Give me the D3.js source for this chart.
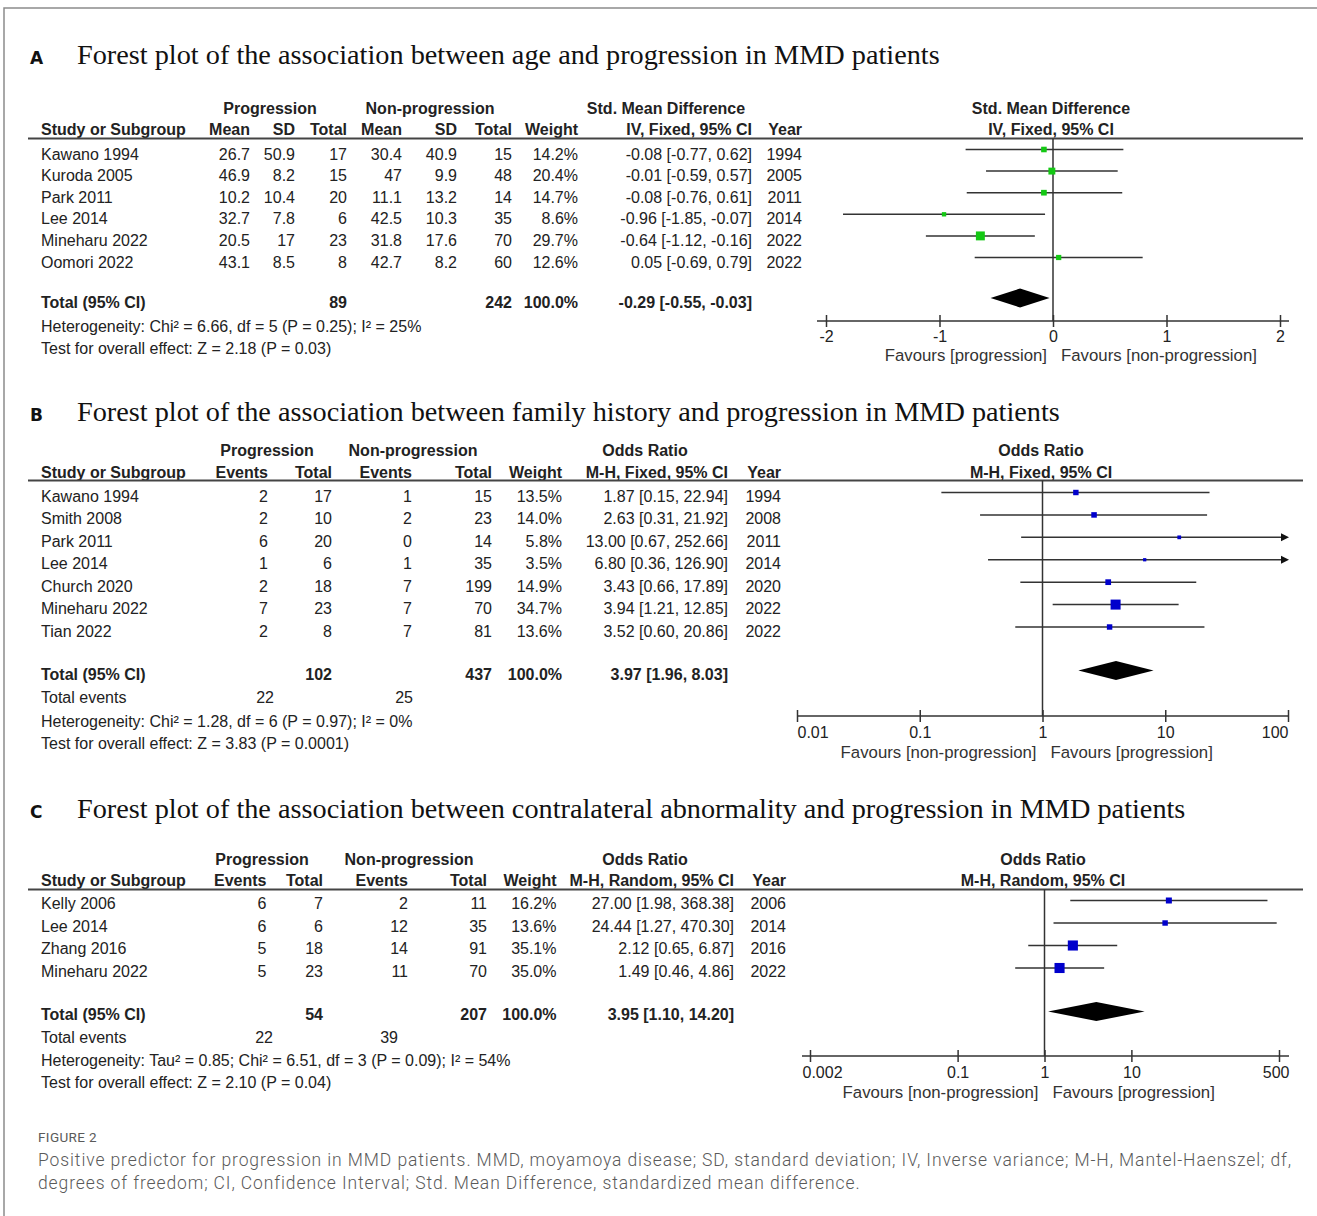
<!DOCTYPE html>
<html>
<head>
<meta charset="utf-8">
<script src="https://cdn.jsdelivr.net/npm/d3@7"></script>
<style>
  body { margin: 0; background: #fff; }
  svg { display: block; }
  text { font-family: "Liberation Sans", Arial, sans-serif; font-size: 16px; fill: #222; }
  .b { font-weight: bold; }
  .title { font-family: "Liberation Serif", "Times New Roman", serif; fill: #111; }
  .letter { font-family: "DejaVu Sans", sans-serif; font-weight: bold; font-size: 17px; fill: #111; }
  .fav { fill: #333; font-size: 16.8px; }
  .cap { font-family: Roboto, "Open Sans", sans-serif; font-weight: 300; fill: #5a5a5a; }
</style>
</head>
<body>
<svg width="1317" height="1216"></svg>
<script>
// ---------- A: age (Std. Mean Difference, IV fixed)
const studiesA = ["Kawano 1994", "Kuroda 2005", "Park 2011", "Lee 2014", "Mineharu 2022", "Oomori 2022"];
const progMeanA = [26.7, 46.9, 10.2, 32.7, 20.5, 43.1];
const progSdA = [50.9, 8.2, 10.4, 7.8, 17, 8.5];
const progTotalA = [17, 15, 20, 6, 23, 8];
const nonMeanA = [30.4, 47, 11.1, 42.5, 31.8, 42.7];
const nonSdA = [40.9, 9.9, 13.2, 10.3, 17.6, 8.2];
const nonTotalA = [15, 48, 14, 35, 70, 60];
const weightA = [14.2, 20.4, 14.7, 8.6, 29.7, 12.6];
const estA = [-0.08, -0.01, -0.08, -0.96, -0.64, 0.05];
const lowA = [-0.77, -0.59, -0.76, -1.85, -1.12, -0.69];
const highA = [0.62, 0.57, 0.61, -0.07, -0.16, 0.79];
const yearA = [1994, 2005, 2011, 2014, 2022, 2022];
const totalsA = [89, 242];
const pooledA = [-0.29, -0.55, -0.03];
const ticksA = [-2, -1, 0, 1, 2];
const tickLabelsA = ["-2", "-1", "0", "1", "2"];

// ---------- B: family history (OR, M-H fixed)
const studiesB = ["Kawano 1994", "Smith 2008", "Park 2011", "Lee 2014", "Church 2020", "Mineharu 2022", "Tian 2022"];
const progEventsB = [2, 2, 6, 1, 2, 7, 2];
const progTotalB = [17, 10, 20, 6, 18, 23, 8];
const nonEventsB = [1, 2, 0, 1, 7, 7, 7];
const nonTotalB = [15, 23, 14, 35, 199, 70, 81];
const weightB = [13.5, 14.0, 5.8, 3.5, 14.9, 34.7, 13.6];
const estB = [1.87, 2.63, 13.00, 6.80, 3.43, 3.94, 3.52];
const lowB = [0.15, 0.31, 0.67, 0.36, 0.66, 1.21, 0.60];
const highB = [22.94, 21.92, 252.66, 126.90, 17.89, 12.85, 20.86];
const yearB = [1994, 2008, 2011, 2014, 2020, 2022, 2022];
const totalsB = [102, 437];
const eventsB = [22, 25];
const pooledB = [3.97, 1.96, 8.03];
const ticksB = [0.01, 0.1, 1, 10, 100];
const tickLabelsB = ["0.01", "0.1", "1", "10", "100"];

// ---------- C: contralateral abnormality (OR, M-H random)
const studiesC = ["Kelly 2006", "Lee 2014", "Zhang 2016", "Mineharu 2022"];
const progEventsC = [6, 6, 5, 5];
const progTotalC = [7, 6, 18, 23];
const nonEventsC = [2, 12, 14, 11];
const nonTotalC = [11, 35, 91, 70];
const weightC = [16.2, 13.6, 35.1, 35.0];
const estC = [27.00, 24.44, 2.12, 1.49];
const lowC = [1.98, 1.27, 0.65, 0.46];
const highC = [368.38, 470.30, 6.87, 4.86];
const yearC = [2006, 2014, 2016, 2022];
const totalsC = [54, 207];
const eventsC = [22, 39];
const pooledC = [3.95, 1.10, 14.20];
const ticksC = [0.002, 0.1, 1, 10, 500];
const tickLabelsC = ["0.002", "0.1", "1", "10", "500"];

const svg = d3.select("svg");
const lineCol = "#333";

svg.append("rect").attr("width", 1317).attr("height", 1216).attr("fill", "#fff");
// frame
svg.append("path").attr("d", "M4,1216V8H1317").attr("fill", "none")
    .attr("stroke", "#8c8c8c").attr("stroke-width", 1.5);

const pct = v => v.toFixed(1) + "%";
const ci = (e, l, h) => `${e.toFixed(2)} [${l.toFixed(2)}, ${h.toFixed(2)}]`;
const ciList = (e, l, h) => e.map((v, i) => ci(v, l[i], h[i]));
// box size grows with weight
const boxSize = d3.scaleLinear().domain([0, 30]).range([2.5, 9]);

// title font: fit panel A title to its width in the figure
const probe = svg.append("text").attr("class", "title").style("font-size", "28px")
    .text("Forest plot of the association between age and progression in MMD patients");
const titleSize = 28 * 863 / probe.node().getComputedTextLength();
probe.remove();

function drawPanel(p) {
    const g = svg.append("g");
    g.append("text").attr("class", "letter").attr("x", 30).attr("y", p.titleY - 0.5).text(p.letter);
    g.append("text").attr("class", "title").attr("x", 77).attr("y", p.titleY)
        .style("font-size", titleSize + "px").text(p.title);

    // headers
    p.groups.forEach(([t, cx]) => g.append("text").attr("class", "b").attr("x", cx).attr("y", p.h1)
        .attr("text-anchor", "middle").text(t));
    g.append("text").attr("class", "b").attr("x", 41).attr("y", p.h2).text("Study or Subgroup");
    p.cols.forEach(c => g.append("text").attr("class", "b").attr("x", c.x).attr("y", p.h2)
        .attr("text-anchor", "end").text(c.head));
    g.append("text").attr("class", "b").attr("x", p.plotCx).attr("y", p.h1)
        .attr("text-anchor", "middle").text(p.plotHead[0]);
    g.append("text").attr("class", "b").attr("x", p.plotCx).attr("y", p.h2)
        .attr("text-anchor", "middle").text(p.plotHead[1]);
    g.append("line").attr("x1", 28).attr("x2", 1303).attr("y1", p.rule).attr("y2", p.rule)
        .attr("stroke", "#444").attr("stroke-width", 2);

    // study rows
    const y = d3.scalePoint().domain(d3.range(p.studies.length)).range([p.rowTop, p.rowBottom]);
    p.studies.forEach((s, i) => {
        g.append("text").attr("x", 41).attr("y", y(i)).text(s);
        p.cols.forEach(c => g.append("text").attr("x", c.x).attr("y", y(i))
            .attr("text-anchor", "end").text(c.vals[i]));
    });

    // totals
    g.append("text").attr("class", "b").attr("x", 41).attr("y", p.totalY).text("Total (95% CI)");
    p.totals.forEach(([x, t]) => g.append("text").attr("class", "b").attr("x", x).attr("y", p.totalY)
        .attr("text-anchor", "end").text(t));
    if (p.events) {
        g.append("text").attr("x", 41).attr("y", p.eventsY).text("Total events");
        p.events.forEach(([x, t]) => g.append("text").attr("x", x).attr("y", p.eventsY)
            .attr("text-anchor", "end").text(t));
    }
    p.notes.forEach(([t, yy]) => g.append("text").attr("x", 41).attr("y", yy).text(t));

    // forest plot
    const x = p.scale;
    const [x0, x1] = x.range();
    const ref = x(p.ref);
    g.append("line").attr("x1", ref).attr("x2", ref).attr("y1", p.rule).attr("y2", p.axisY)
        .attr("stroke", lineCol).attr("stroke-width", 1.5);

    p.est.forEach((e, i) => {
        const yy = y(i) + p.dy;
        const over = p.high[i] > x.domain()[1];
        const hi = over ? x1 - 6 : x(p.high[i]);
        g.append("line").attr("x1", x(p.low[i])).attr("x2", hi).attr("y1", yy).attr("y2", yy)
            .attr("stroke", lineCol).attr("stroke-width", 1.5);
        if (over) {
            g.append("path").attr("d", `M${x1 - 7},${yy - 4}L${x1 + 1},${yy}L${x1 - 7},${yy + 4}Z`)
                .attr("fill", "#111");
        }
        const s = boxSize(p.weight[i]);
        g.append("rect").attr("x", x(e) - s / 2).attr("y", yy - s / 2).attr("width", s).attr("height", s)
            .attr("fill", p.color);
    });

    const dy = p.totalY + p.dy;
    const [pe, pl, ph] = p.pooled;
    g.append("path")
        .attr("d", `M${x(pl)},${dy}L${x(pe)},${dy - 9.5}L${x(ph)},${dy}L${x(pe)},${dy + 9.5}Z`)
        .attr("fill", "#000");

    // axis
    g.append("line").attr("x1", p.axisX[0]).attr("x2", p.axisX[1]).attr("y1", p.axisY).attr("y2", p.axisY)
        .attr("stroke", lineCol).attr("stroke-width", 1.5);
    const ax = g.append("g").attr("transform", `translate(0,${p.axisY})`)
        .call(d3.axisBottom(x).tickValues(p.ticks).tickFormat((d, i) => p.tickLabels[i]).tickSizeOuter(0));
    ax.select(".domain").remove();
    ax.selectAll(".tick line").attr("y1", -6).attr("y2", 6).attr("stroke", lineCol).attr("stroke-width", 1.5);
    const n = p.ticks.length;
    ax.selectAll(".tick text").attr("y", p.labelY - p.axisY).attr("dy", null)
        .each(function (d, i) {
            if (!p.edge) return;
            if (i === 0) d3.select(this).attr("text-anchor", "start").attr("x", p.axisX[0] - x(d));
            if (i === n - 1) d3.select(this).attr("text-anchor", "end").attr("x", p.axisX[1] - x(d));
        });

    g.append("text").attr("class", "fav").attr("x", ref - 6).attr("y", p.favY)
        .attr("text-anchor", "end").text(p.favours[0]);
    g.append("text").attr("class", "fav").attr("x", ref + 8).attr("y", p.favY).text(p.favours[1]);
}

drawPanel({
    letter: "A", titleY: 64,
    title: "Forest plot of the association between age and progression in MMD patients",
    groups: [["Progression", 270], ["Non-progression", 430], ["Std. Mean Difference", 666]],
    h1: 114, h2: 134.5, rule: 138.5,
    cols: [
        { head: "Mean", x: 250, vals: progMeanA },
        { head: "SD", x: 295, vals: progSdA },
        { head: "Total", x: 347, vals: progTotalA },
        { head: "Mean", x: 402, vals: nonMeanA },
        { head: "SD", x: 457, vals: nonSdA },
        { head: "Total", x: 512, vals: nonTotalA },
        { head: "Weight", x: 578, vals: weightA.map(pct) },
        { head: "IV, Fixed, 95% CI", x: 752, vals: ciList(estA, lowA, highA) },
        { head: "Year", x: 802, vals: yearA }
    ],
    studies: studiesA, rowTop: 159.5, rowBottom: 267.5,
    totalY: 308,
    totals: [[347, totalsA[0]], [512, totalsA[1]], [578, "100.0%"], [752, ci(...pooledA)]],
    notes: [["Heterogeneity: Chi\u00b2 = 6.66, df = 5 (P = 0.25); I\u00b2 = 25%", 331.5],
            ["Test for overall effect: Z = 2.18 (P = 0.03)", 354]],
    plotCx: 1051, plotHead: ["Std. Mean Difference", "IV, Fixed, 95% CI"],
    scale: d3.scaleLinear().domain([-2, 2]).range([826, 1280]), ref: 0,
    axisY: 321, axisX: [817, 1289], ticks: ticksA, tickLabels: tickLabelsA, labelY: 341.5, edge: false,
    favY: 361, favours: ["Favours [progression]", "Favours [non-progression]"],
    color: "#14c814", dy: -10,
    est: estA, low: lowA, high: highA, weight: weightA, pooled: pooledA
});

drawPanel({
    letter: "B", titleY: 421,
    title: "Forest plot of the association between family history and progression in MMD patients",
    groups: [["Progression", 267], ["Non-progression", 413], ["Odds Ratio", 645]],
    h1: 455.5, h2: 477.5, rule: 480.5,
    cols: [
        { head: "Events", x: 268, vals: progEventsB },
        { head: "Total", x: 332, vals: progTotalB },
        { head: "Events", x: 412, vals: nonEventsB },
        { head: "Total", x: 492, vals: nonTotalB },
        { head: "Weight", x: 562, vals: weightB.map(pct) },
        { head: "M-H, Fixed, 95% CI", x: 728, vals: ciList(estB, lowB, highB) },
        { head: "Year", x: 781, vals: yearB }
    ],
    studies: studiesB, rowTop: 502, rowBottom: 636.5,
    totalY: 680,
    totals: [[332, totalsB[0]], [492, totalsB[1]], [562, "100.0%"], [728, ci(...pooledB)]],
    events: [[274, eventsB[0]], [413, eventsB[1]]], eventsY: 703,
    notes: [["Heterogeneity: Chi\u00b2 = 1.28, df = 6 (P = 0.97); I\u00b2 = 0%", 726.5],
            ["Test for overall effect: Z = 3.83 (P = 0.0001)", 748.5]],
    plotCx: 1041, plotHead: ["Odds Ratio", "M-H, Fixed, 95% CI"],
    scale: d3.scaleLog().domain([0.01, 100]).range([797, 1288]), ref: 1,
    axisY: 716, axisX: [797, 1288], ticks: ticksB, tickLabels: tickLabelsB, labelY: 738, edge: true,
    favY: 758, favours: ["Favours [non-progression]", "Favours [progression]"],
    color: "#0000cc", dy: -9.5,
    est: estB, low: lowB, high: highB, weight: weightB, pooled: pooledB
});

drawPanel({
    letter: "C", titleY: 818,
    title: "Forest plot of the association between contralateral abnormality and progression in MMD patients",
    groups: [["Progression", 262], ["Non-progression", 409], ["Odds Ratio", 645]],
    h1: 865, h2: 885.5, rule: 889.5,
    cols: [
        { head: "Events", x: 266.5, vals: progEventsC },
        { head: "Total", x: 323, vals: progTotalC },
        { head: "Events", x: 408, vals: nonEventsC },
        { head: "Total", x: 487, vals: nonTotalC },
        { head: "Weight", x: 556.5, vals: weightC.map(pct) },
        { head: "M-H, Random, 95% CI", x: 734, vals: ciList(estC, lowC, highC) },
        { head: "Year", x: 786, vals: yearC }
    ],
    studies: studiesC, rowTop: 909, rowBottom: 976.5,
    totalY: 1020,
    totals: [[323, totalsC[0]], [487, totalsC[1]], [556.5, "100.0%"], [734, ci(...pooledC)]],
    events: [[273, eventsC[0]], [398, eventsC[1]]], eventsY: 1043,
    notes: [["Heterogeneity: Tau\u00b2 = 0.85; Chi\u00b2 = 6.51, df = 3 (P = 0.09); I\u00b2 = 54%", 1066],
            ["Test for overall effect: Z = 2.10 (P = 0.04)", 1088]],
    plotCx: 1043, plotHead: ["Odds Ratio", "M-H, Random, 95% CI"],
    scale: d3.scaleLog().domain([0.002, 500]).range([810, 1279]), ref: 1,
    axisY: 1056, axisX: [802, 1289], ticks: ticksC, tickLabels: tickLabelsC, labelY: 1077.5, edge: true,
    favY: 1098, favours: ["Favours [non-progression]", "Favours [progression]"],
    color: "#0000cc", dy: -8.5,
    est: estC, low: lowC, high: highC, weight: weightC, pooled: pooledC
});

// caption
const figLabel = svg.append("text").attr("class", "cap").attr("x", 38).attr("y", 1142)
    .style("font-size", "13.5px").style("font-weight", 400).text("FIGURE 2");
figLabel.style("letter-spacing", ((59 - figLabel.node().getComputedTextLength()) / 8) + "px");

const capLines = [
    "Positive predictor for progression in MMD patients. MMD, moyamoya disease; SD, standard deviation; IV, Inverse variance; M-H, Mantel-Haenszel; df,",
    "degrees of freedom; CI, Confidence Interval; Std. Mean Difference, standardized mean difference."
];
const cap = capLines.map((t, i) => svg.append("text").attr("class", "cap").attr("x", 38)
    .attr("y", 1166 + i * 23).style("font-size", "17.5px").text(t));
const spacing = (1254 - cap[0].node().getComputedTextLength()) / capLines[0].length;
cap.forEach(c => c.style("letter-spacing", spacing + "px"));
</script>
</body>
</html>
